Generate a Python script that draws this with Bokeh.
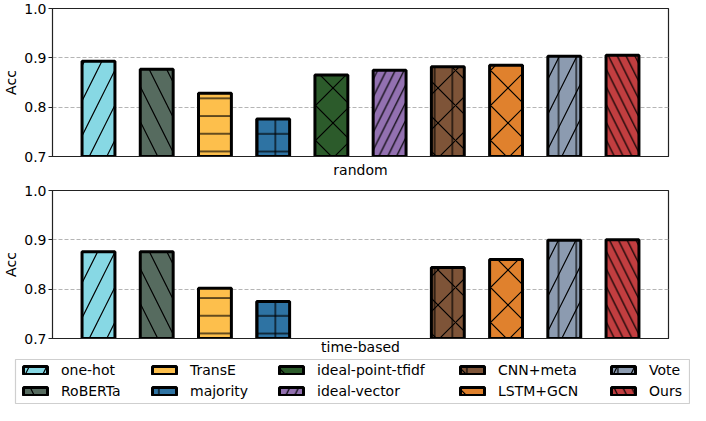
import math
from bokeh.plotting import figure
from bokeh.models import Range1d, Legend, LegendItem, FixedTicker, PrintfTickFormatter
from bokeh.layouts import column
from bokeh.embed import file_html
from bokeh.resources import INLINE

# ---- data ----
methods = ["one-hot", "RoBERTa", "TransE", "majority", "ideal-point-tfidf",
           "ideal-vector", "CNN+meta", "LSTM+GCN", "Vote", "Ours"]
acc_random = [0.893, 0.877, 0.828, 0.776, 0.865, 0.875, 0.882, 0.885, 0.903, 0.905]
acc_time = [0.876, 0.876, 0.802, 0.775, None, None, 0.844, 0.860, 0.899, 0.900]
yticks = [0.7, 0.8, 0.9, 1.0]
panel_labels = ["random", "time-based"]

# ---- styles ----
colors = ["#87d8e4", "#566b5f", "#fdbf4c", "#2e73a3", "#2c5b2b",
          "#9371b1", "#7e5438", "#e0812d", "#8c9bb0", "#c23e40"]
hatch1 = ["right_diagonal_line", "left_diagonal_line", "horizontal_line", "cross",
          "diagonal_cross", "right_diagonal_line", "diagonal_cross", "diagonal_cross",
          "right_diagonal_line", "left_diagonal_line"]
scale1 = [35, 35, 17.7, 17.7, 35, 17.7, 35, 35, 35, 17.7]
hatch2 = [None, None, None, None, None, None, "vertical_line", None, "vertical_line", None]
scale2 = [17.7] * 10

FONT = "DejaVu Sans"
FS = "14px"
BAR_W = 0.565
W = 690


def draw_bars(p, vals):
    items = []
    for i, name in enumerate(methods):
        v = vals[i] if vals[i] is not None else math.nan
        a = p.vbar(x=[i], top=[v], bottom=0, width=BAR_W,
                   fill_color=colors[i], line_color=None,
                   hatch_pattern=hatch1[i], hatch_color="black",
                   hatch_weight=1.2, hatch_scale=scale1[i])
        kw = {}
        if hatch2[i]:
            kw = dict(hatch_pattern=hatch2[i], hatch_color="black",
                      hatch_weight=1.2, hatch_scale=scale2[i])
        b = p.vbar(x=[i], top=[v], bottom=0, width=BAR_W,
                   fill_color=None, line_color="black", line_width=3, **kw)
        items.append(LegendItem(label=name, renderers=[a, b]))
    return items


def make_panel(vals, label, height, btop, bbottom, lab_standoff):
    p = figure(width=W, height=height, output_backend="svg", toolbar_location=None,
               x_range=Range1d(-0.79, 9.79), y_range=Range1d(0.7, 1.0),
               min_border_left=46, min_border_right=22,
               min_border_top=btop, min_border_bottom=bbottom)
    p.outline_line_color = "#222222"
    p.outline_line_width = 1.2
    p.xgrid.visible = False
    p.ygrid.ticker = FixedTicker(ticks=yticks)
    p.ygrid.grid_line_color = "#b5b5b5"
    p.ygrid.grid_line_dash = "4 2"
    p.ygrid.grid_line_width = 1
    p.yaxis.ticker = FixedTicker(ticks=yticks)
    p.yaxis.formatter = PrintfTickFormatter(format="%.1f")
    p.yaxis.minor_tick_line_color = None
    p.yaxis.major_tick_out = 4
    p.yaxis.major_tick_in = 0
    p.yaxis.major_tick_line_color = "#222222"
    p.yaxis.axis_line_color = "#222222"
    p.yaxis.major_label_text_font = FONT
    p.yaxis.major_label_text_font_size = FS
    p.yaxis.major_label_text_color = "black"
    p.yaxis.major_label_standoff = 2
    p.yaxis.axis_label = "Acc"
    p.yaxis.axis_label_text_font = FONT
    p.yaxis.axis_label_text_font_size = FS
    p.yaxis.axis_label_text_color = "black"
    p.yaxis.axis_label_text_font_style = "normal"
    p.yaxis.axis_label_standoff = 2
    p.xaxis.ticker = FixedTicker(ticks=[])
    p.xaxis.major_label_text_font_size = "0px"
    p.xaxis.major_tick_line_color = None
    p.xaxis.minor_tick_line_color = None
    p.xaxis.axis_line_color = "#222222"
    p.xaxis.axis_label = label
    p.xaxis.axis_label_text_font = FONT
    p.xaxis.axis_label_text_font_size = FS
    p.xaxis.axis_label_text_color = "black"
    p.xaxis.axis_label_text_font_style = "normal"
    p.xaxis.axis_label_standoff = lab_standoff
    return p


p1 = make_panel(acc_random, panel_labels[0], 182, 8, 26, 5)
draw_bars(p1, acc_random)
p2 = make_panel(acc_time, panel_labels[1], 175, 8, 19, 0)
draw_bars(p2, acc_time)

# legend panel: its frame outline acts as the legend box
pl = figure(width=W, height=48, output_backend="svg", toolbar_location=None,
            x_range=Range1d(0, 1), y_range=Range1d(0, 1),
            min_border_left=15, min_border_right=1, min_border_top=2, min_border_bottom=2)
pl.frame_align = False
pl.axis.visible = False
pl.grid.visible = False
pl.outline_line_color = "#cfcfcf"
pl.outline_line_width = 1.2
leg_items = draw_bars(pl, [None] * len(methods))
col_x = [5, 134, 261, 442, 593]
for c in range(5):
    lg = Legend(items=leg_items[2 * c:2 * c + 2], orientation="vertical",
                location=(col_x[c], 4), margin=0, padding=0, spacing=5,
                glyph_width=30, glyph_height=10, label_height=16,
                label_standoff=11,
                label_text_font=FONT, label_text_font_size=FS,
                label_text_color="black",
                border_line_color=None, background_fill_alpha=0)
    pl.add_layout(lg, "center")

layout = column(p1, p2, pl, spacing=0)
open("out.html", "w").write(file_html(layout, INLINE))
